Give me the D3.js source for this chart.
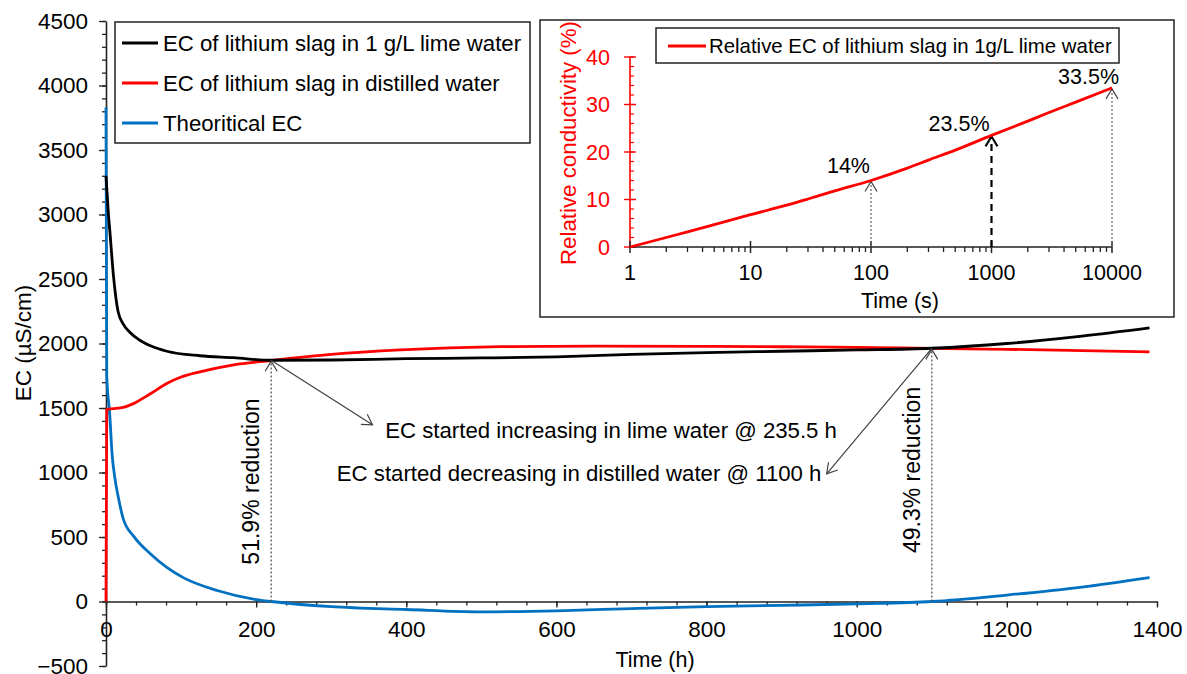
<!DOCTYPE html>
<html>
<head>
<meta charset="utf-8">
<script src="https://cdn.jsdelivr.net/npm/d3@7"></script>
<style>
body { margin: 0; background: #fff; }
text { font-family: "Liberation Sans", Arial, sans-serif; fill: #000; }
</style>
</head>
<body>
<svg id="chart" width="1187" height="674"></svg>
<script>
// ---- data ----
var limeTime = [0, 3, 5, 10, 16, 23, 32, 45, 60, 81, 125, 170, 220, 300, 400, 500, 600, 700, 800, 900, 1000, 1100, 1200, 1300, 1390];
var limeEC   = [3300, 3020, 2880, 2520, 2250, 2150, 2085, 2025, 1980, 1940, 1905, 1890, 1870, 1872, 1882, 1888, 1897, 1915, 1930, 1940, 1950, 1963, 2000, 2058, 2122];

var distTime = [0, 1, 10, 23, 35, 59, 81, 100, 125, 170, 220, 300, 392, 525, 650, 800, 900, 1000, 1100, 1200, 1300, 1390];
var distEC   = [0, 1490, 1495, 1505, 1530, 1610, 1690, 1740, 1780, 1835, 1868, 1915, 1950, 1975, 1980, 1978, 1975, 1970, 1962, 1955, 1945, 1935];

var theoTime = [0, 1, 5, 8, 12, 16, 23, 37, 59, 81, 103, 148, 200, 220, 300, 400, 500, 600, 700, 800, 900, 1000, 1100, 1200, 1300, 1390];
var theoEC   = [3830, 1750, 1450, 1150, 950, 820, 640, 505, 370, 265, 185, 85, 15, 0, -40, -62, -80, -72, -55, -40, -30, -18, 0, 50, 112, 186];

var relTime = [1, 2, 3, 5, 10, 20, 30, 50, 100, 200, 300, 500, 1000, 2000, 3000, 5000, 10000];
var relEC   = [0, 2.0, 3.2, 4.7, 6.8, 8.8, 10.1, 11.8, 14, 16.6, 18.3, 20.4, 23.5, 26.5, 28.3, 30.5, 33.5];

var xTicks = [0, 200, 400, 600, 800, 1000, 1200, 1400];
var yTicks = [-500, 0, 500, 1000, 1500, 2000, 2500, 3000, 3500, 4000, 4500];
var insetXTicks = [1, 10, 100, 1000, 10000];
var insetYTicks = [0, 10, 20, 30, 40];

var legendNames = ["EC of lithium slag in 1 g/L lime water", "EC of lithium slag in distilled water", "Theoritical EC"];
var legendColors = ["#000000", "#ff0000", "#0070c0"];

// crossing points (h, µS/cm) and their labels
var crossTime = [220, 1100];
var crossEC = [1870, 1962];
var crossLabels = ["51.9% reduction", "49.3% reduction"];

// inset arrow marks
var markTime = [100, 1000, 10000];
var markValue = [14, 23.5, 33.5];
var markLabels = ["14%", "23.5%", "33.5%"];

var svg = d3.select("#chart");
var font = "Liberation Sans, Arial, sans-serif";

// markers
var defs = svg.append("defs");
function addMarker(id, color, w) {
    defs.append("marker")
        .attr("id", id)
        .attr("viewBox", "-12 -8 14 16")
        .attr("refX", 0).attr("refY", 0)
        .attr("markerWidth", 14).attr("markerHeight", 16)
        .attr("markerUnits", "userSpaceOnUse")
        .attr("orient", "auto")
        .append("path")
        .attr("d", "M-10,-6L0,0L-10,6")
        .attr("fill", "none")
        .attr("stroke", color)
        .attr("stroke-width", w);
}
addMarker("arrGray", "#404040", 1.2);
addMarker("arrBlack", "#000", 2);

// ---- main chart ----
var x = d3.scaleLinear().domain([0, 1400]).range([106, 1157]);
var y = d3.scaleLinear().domain([-500, 4500]).range([666, 21]);

// y axis minor + major
svg.append("g")
    .attr("transform", "translate(" + x(0) + ",0)")
    .call(d3.axisLeft(y).tickValues(d3.range(-500, 4501, 100)).tickSize(4).tickSizeOuter(0).tickFormat(""))
    .call(function(g){ g.select(".domain").remove(); })
    .selectAll("line").attr("stroke", "#222").attr("stroke-width", 1.3);

var yAxis = svg.append("g")
    .attr("transform", "translate(" + x(0) + ",0)")
    .call(d3.axisLeft(y).tickValues(yTicks).tickSize(7).tickSizeOuter(0).tickPadding(11).tickFormat(d3.format("d")));
yAxis.select(".domain").attr("stroke", "#222").attr("stroke-width", 1.6);
yAxis.selectAll("line").attr("stroke", "#222").attr("stroke-width", 1.3);
yAxis.selectAll("text").style("font-family", font).style("font-size", "22.5px").attr("fill", "#000");

// x axis at y = 0
svg.append("g")
    .attr("transform", "translate(0," + y(0) + ")")
    .call(d3.axisBottom(x).tickValues(d3.range(0, 1401, 40)).tickSize(4).tickSizeOuter(0).tickFormat(""))
    .call(function(g){ g.select(".domain").remove(); })
    .selectAll("line").attr("stroke", "#222").attr("stroke-width", 1.3);

var xAxis = svg.append("g")
    .attr("transform", "translate(0," + y(0) + ")")
    .call(d3.axisBottom(x).tickValues(xTicks).tickSize(6).tickSizeOuter(0).tickPadding(14).tickFormat(d3.format("d")));
xAxis.select(".domain").attr("stroke", "#222").attr("stroke-width", 1.6);
xAxis.selectAll("line").attr("stroke", "#222").attr("stroke-width", 1.3);
xAxis.selectAll("text").style("font-family", font).style("font-size", "22.5px").attr("fill", "#000");

// axis titles
svg.append("text")
    .attr("transform", "translate(31,343) rotate(-90)")
    .attr("text-anchor", "middle")
    .style("font-size", "22.5px")
    .text("EC (µS/cm)");
svg.append("text")
    .attr("x", 655).attr("y", 667)
    .attr("text-anchor", "middle")
    .style("font-size", "21.5px")
    .text("Time (h)");

// series
var line = d3.line()
    .x(function(d){ return x(d[0]); })
    .y(function(d){ return y(d[1]); })
    .curve(d3.curveMonotoneX);

var series = [
    {t: theoTime, v: theoEC, c: legendColors[2]},
    {t: distTime, v: distEC, c: legendColors[1]},
    {t: limeTime, v: limeEC, c: legendColors[0]}
];
series.forEach(function(s){
    svg.append("path")
        .datum(d3.zip(s.t, s.v))
        .attr("d", line)
        .attr("fill", "none")
        .attr("stroke", s.c)
        .attr("stroke-width", 2.8)
        .attr("stroke-linejoin", "round");
});

// vertical dotted arrows + rotated labels
crossTime.forEach(function(t, i){
    svg.append("line")
        .attr("x1", x(t)).attr("x2", x(t))
        .attr("y1", y(0)).attr("y2", y(crossEC[i]) + 1)
        .attr("stroke", "#555")
        .attr("stroke-width", 1.3)
        .attr("stroke-dasharray", "2,2")
        .attr("marker-end", "url(#arrGray)");
    svg.append("text")
        .attr("transform", "translate(" + (x(t) - 12) + "," + y(i == 0 ? 930 : 1020) + ") rotate(-90)")
        .attr("text-anchor", "middle")
        .style("font-size", "23px")
        .text(crossLabels[i]);
});

// diagonal arrows to notes
svg.append("line")
    .attr("x1", x(crossTime[0])).attr("y1", y(crossEC[0]))
    .attr("x2", x(355)).attr("y2", y(1370))
    .attr("stroke", "#404040").attr("stroke-width", 1.2)
    .attr("marker-end", "url(#arrGray)");
svg.append("text")
    .attr("x", x(372)).attr("y", y(1270))
    .style("font-size", "22.2px")
    .text("EC started increasing in lime water @ 235.5 h");

svg.append("line")
    .attr("x1", x(crossTime[1])).attr("y1", y(crossEC[1]))
    .attr("x2", x(960)).attr("y2", y(990))
    .attr("stroke", "#404040").attr("stroke-width", 1.2)
    .attr("marker-end", "url(#arrGray)");
svg.append("text")
    .attr("x", x(953)).attr("y", y(935))
    .attr("text-anchor", "end")
    .style("font-size", "22.2px")
    .text("EC started decreasing in distilled water @ 1100 h");

// main legend
var leg = svg.append("g");
leg.append("rect")
    .attr("x", 115).attr("y", 22).attr("width", 415).attr("height", 121)
    .attr("fill", "#fff").attr("stroke", "#222").attr("stroke-width", 1.5);
legendNames.forEach(function(n, i){
    var cy = 43 + i * 40;
    leg.append("line")
        .attr("x1", 122).attr("x2", 158).attr("y1", cy).attr("y2", cy)
        .attr("stroke", legendColors[i]).attr("stroke-width", 2.8);
    leg.append("text")
        .attr("x", 163).attr("y", cy + 8)
        .style("font-size", "22.2px")
        .text(n);
});

// ---- inset ----
var ix = d3.scaleLog().domain([1, 10000]).range([630, 1112]);
var iy = d3.scaleLinear().domain([0, 40]).range([247, 57]);
var inset = svg.append("g");

inset.append("rect")
    .attr("x", 540).attr("y", 20).attr("width", 634).attr("height", 297)
    .attr("fill", "#fff").attr("stroke", "#222").attr("stroke-width", 1.5);

// inset y axis (red)
inset.append("line")
    .attr("x1", ix(1)).attr("x2", ix(1)).attr("y1", iy(0)).attr("y2", iy(40))
    .attr("stroke", "#ff0000").attr("stroke-width", 1.6);
inset.selectAll(".iyminor")
    .data(d3.range(0, 41, 2))
    .enter().append("line")
    .attr("x1", ix(1)).attr("x2", ix(1) + 4)
    .attr("y1", function(d){ return iy(d); }).attr("y2", function(d){ return iy(d); })
    .attr("stroke", "#ff0000").attr("stroke-width", 1.2);
inset.selectAll(".iymajor")
    .data(insetYTicks)
    .enter().append("line")
    .attr("x1", ix(1) - 6).attr("x2", ix(1) + 6)
    .attr("y1", function(d){ return iy(d); }).attr("y2", function(d){ return iy(d); })
    .attr("stroke", "#ff0000").attr("stroke-width", 1.4);
inset.selectAll(".iylab")
    .data(insetYTicks)
    .enter().append("text")
    .attr("x", ix(1) - 20).attr("y", function(d){ return iy(d) + 7.5; })
    .attr("text-anchor", "end")
    .style("font-size", "21.5px")
    .style("fill", "#ff0000")
    .text(function(d){ return d; });

// inset x axis
inset.append("line")
    .attr("x1", ix(1)).attr("x2", ix(10000)).attr("y1", iy(0)).attr("y2", iy(0))
    .attr("stroke", "#222").attr("stroke-width", 1.6);
var minorLog = [];
insetXTicks.slice(0, 4).forEach(function(d){
    for (var k = 2; k < 10; k++) minorLog.push(d * k);
});
inset.selectAll(".ixminor")
    .data(minorLog)
    .enter().append("line")
    .attr("x1", function(d){ return ix(d); }).attr("x2", function(d){ return ix(d); })
    .attr("y1", iy(0)).attr("y2", iy(0) + 5)
    .attr("stroke", "#222").attr("stroke-width", 1.3);
inset.selectAll(".ixmajor")
    .data(insetXTicks)
    .enter().append("line")
    .attr("x1", function(d){ return ix(d); }).attr("x2", function(d){ return ix(d); })
    .attr("y1", iy(0) - 6).attr("y2", iy(0) + 6)
    .attr("stroke", "#222").attr("stroke-width", 1.5);
inset.selectAll(".ixlab")
    .data(insetXTicks)
    .enter().append("text")
    .attr("x", function(d){ return ix(d); }).attr("y", iy(0) + 33)
    .attr("text-anchor", "middle")
    .style("font-size", "21.5px")
    .text(function(d){ return d; });

inset.append("text")
    .attr("x", 900).attr("y", 308)
    .attr("text-anchor", "middle")
    .style("font-size", "21.5px")
    .text("Time (s)");
inset.append("text")
    .attr("transform", "translate(576,143) rotate(-90)")
    .attr("text-anchor", "middle")
    .style("font-size", "22.3px")
    .style("fill", "#ff0000")
    .text("Relative conductivity (%)");

// arrows under the curve
markTime.forEach(function(t, i){
    var heavy = (i == 1);
    inset.append("line")
        .attr("x1", ix(t)).attr("x2", ix(t))
        .attr("y1", iy(0)).attr("y2", iy(markValue[i]) + 1)
        .attr("stroke", heavy ? "#000" : "#666")
        .attr("stroke-width", heavy ? 2.2 : 1.2)
        .attr("stroke-dasharray", heavy ? "7,5" : "2,2")
        .attr("marker-end", heavy ? "url(#arrBlack)" : "url(#arrGray)");
});

var iline = d3.line()
    .x(function(d){ return ix(d[0]); })
    .y(function(d){ return iy(d[1]); })
    .curve(d3.curveMonotoneX);
inset.append("path")
    .datum(d3.zip(relTime, relEC))
    .attr("d", iline)
    .attr("fill", "none")
    .attr("stroke", "#ff0000")
    .attr("stroke-width", 2.8);

var labDx = [-1, -2, 7];
var labDy = [-8, -4, -4];
markTime.forEach(function(t, i){
    inset.append("text")
        .attr("x", ix(t) + labDx[i]).attr("y", iy(markValue[i]) + labDy[i])
        .attr("text-anchor", "end")
        .style("font-size", "21.5px")
        .text(markLabels[i]);
});

// inset legend
inset.append("rect")
    .attr("x", 656).attr("y", 28).attr("width", 463).attr("height", 35)
    .attr("fill", "#fff").attr("stroke", "#222").attr("stroke-width", 1.5);
inset.append("line")
    .attr("x1", 668).attr("x2", 706).attr("y1", 46).attr("y2", 46)
    .attr("stroke", "#ff0000").attr("stroke-width", 2.8);
inset.append("text")
    .attr("x", 709).attr("y", 53)
    .style("font-size", "20.4px")
    .text("Relative EC of lithium slag in 1g/L lime water");
</script>
</body>
</html>
